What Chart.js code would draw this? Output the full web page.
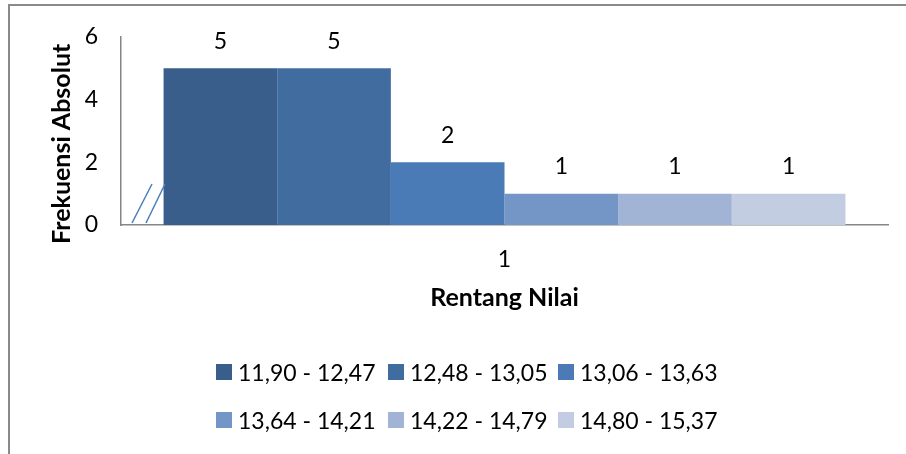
<!DOCTYPE html>
<html>
<head>
<meta charset="utf-8">
<title>Frekuensi Absolut per Rentang Nilai</title>
<script src="https://cdn.jsdelivr.net/npm/chart.js@4/dist/chart.umd.min.js"></script>
<style>
  html, body { margin: 0; padding: 0; background: #fff; overflow: hidden; }
  #wrap { position: relative; width: 906px; height: 454px; }
  #frame {
    position: absolute; left: 8px; top: 4px; width: 2000px; height: 2000px;
    border-top: 2px solid #8a8a8a; border-left: 2px solid #8a8a8a;
    box-sizing: border-box; pointer-events: none;
  }
  canvas { position: absolute; left: 0; top: 0; }
  #legend {
    position: absolute; left: 216px; top: 360px;
    display: grid; grid-template-columns: 172px 170px 170px;
    row-gap: 24px;
    font-family: Lato, "Open Sans", sans-serif; font-size: 23px; color: #000;
  }
  #legend .item { display: flex; align-items: center; height: 24px; white-space: nowrap; }
  #legend .box { width: 16px; height: 16px; margin-right: 6px; flex: none; }
</style>
</head>
<body>
<div id="wrap">
  <canvas id="chart" width="906" height="454"></canvas>
  <div id="frame"></div>
  <div id="legend"></div>
</div>
<script>
// Class intervals and their absolute frequencies
const rangeLabels = ['11,90 - 12,47', '12,48 - 13,05', '13,06 - 13,63', '13,64 - 14,21', '14,22 - 14,79', '14,80 - 15,37'];
const frequencies = [5, 5, 2, 1, 1, 1];
const categoryLabels = ['1'];
const yMin = 0;
const yMax = 6;
const yStep = 2;

// Bar colours, dark to light blue
const palette = ['#3a5e8c', '#416ca0', '#4a7bb7', '#7396c6', '#a2b4d6', '#c2cde2'];

const FONT = 'Lato, "Open Sans", sans-serif';

// Value printed above each bar
const valueLabels = {
  id: 'valueLabels',
  afterDatasetsDraw(chart) {
    const ctx = chart.ctx;
    ctx.save();
    ctx.font = '23px ' + FONT;
    ctx.fillStyle = '#000';
    ctx.textAlign = 'center';
    ctx.textBaseline = 'middle';
    chart.data.datasets.forEach((ds, i) => {
      const meta = chart.getDatasetMeta(i);
      meta.data.forEach((bar, j) => {
        ctx.fillText(String(ds.data[j]), bar.x, bar.y - 27);
      });
    });
    ctx.restore();
  }
};

// Axis-break marks and the vertical axis title
const axisExtras = {
  id: 'axisExtras',
  afterDraw(chart) {
    const ctx = chart.ctx;
    const a = chart.chartArea;
    ctx.save();
    ctx.strokeStyle = '#4a7ebb';
    ctx.lineWidth = 1.5;
    [[11, 31], [25, 44]].forEach(([x0, x1]) => {
      ctx.beginPath();
      ctx.moveTo(a.left + x0, a.bottom - 2);
      ctx.lineTo(a.left + x1, a.bottom - 41);
      ctx.stroke();
    });
    ctx.translate(62, a.top + 107);
    ctx.rotate(-Math.PI / 2);
    ctx.font = 'bold 25px ' + FONT;
    ctx.fillStyle = '#000';
    ctx.textAlign = 'center';
    ctx.textBaseline = 'middle';
    ctx.fillText('Frekuensi Absolut', 0, 0);
    ctx.restore();
  }
};

// Legend built from the chart's datasets
const htmlLegend = {
  id: 'htmlLegend',
  afterUpdate(chart) {
    const box = document.getElementById('legend');
    box.innerHTML = '';
    chart.data.datasets.forEach(ds => {
      const item = document.createElement('div');
      item.className = 'item';
      const sw = document.createElement('span');
      sw.className = 'box';
      sw.style.background = ds.backgroundColor;
      const txt = document.createElement('span');
      txt.textContent = ds.label;
      item.appendChild(sw);
      item.appendChild(txt);
      box.appendChild(item);
    });
  }
};

const datasets = rangeLabels.map((label, i) => ({
  label: label,
  data: [frequencies[i]],
  backgroundColor: palette[i],
  borderWidth: 0,
  barPercentage: 1,
  categoryPercentage: 0.889
}));

new Chart(document.getElementById('chart'), {
  type: 'bar',
  data: { labels: categoryLabels, datasets: datasets },
  options: {
    responsive: false,
    animation: false,
    devicePixelRatio: 1,
    layout: { padding: { left: 0, right: 18, top: 34, bottom: 129 } },
    plugins: {
      legend: { display: false },
      tooltip: { enabled: false }
    },
    scales: {
      x: {
        grid: { display: false, drawTicks: false },
        border: { display: true, color: '#868686', width: 1.5 },
        ticks: { color: '#000', font: { family: FONT, size: 23 }, padding: 21 },
        title: {
          display: true, text: 'Rentang Nilai', color: '#000',
          font: { family: FONT, size: 25, weight: 'bold' },
          padding: { top: 0, bottom: 12 }
        },
        afterFit(scale) { scale.height = 100; }
      },
      y: {
        min: yMin, max: yMax,
        grid: { display: false, drawTicks: false },
        border: { display: true, color: '#868686', width: 1.5 },
        ticks: { stepSize: yStep, color: '#000', font: { family: FONT, size: 23 }, padding: 23 },
        afterFit(scale) { scale.width = 121; }
      }
    }
  },
  plugins: [valueLabels, axisExtras, htmlLegend]
});
</script>
</body>
</html>
